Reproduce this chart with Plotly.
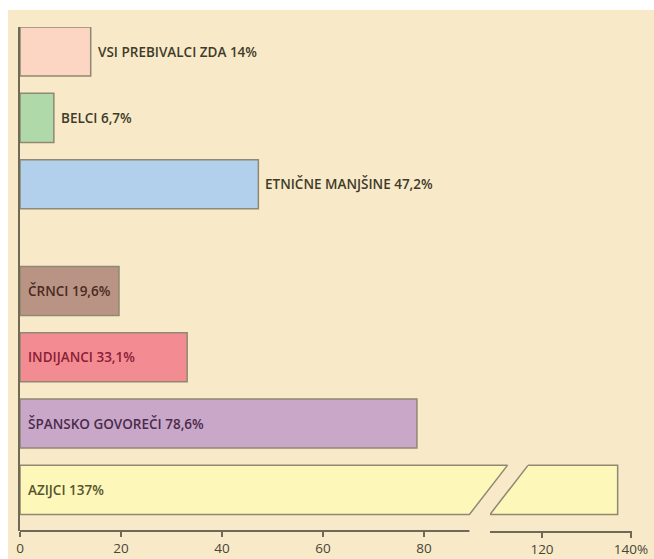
import plotly.graph_objects as go

# ---- data ----
categories = ["VSI PREBIVALCI ZDA", "BELCI", "ETNIČNE MANJŠINE",
              "ČRNCI", "INDIJANCI", "ŠPANSKO GOVOREČI", "AZIJCI"]
values = [14, 6.7, 47.2, 19.6, 33.1, 78.6, 137]
groups = [0, 0, 0, 1, 1, 1, 1]
label_inside = [False, False, False, True, True, True, True]
tick_vals_1 = [0, 20, 40, 60, 80]
tick_text_1 = ["0", "20", "40", "60", "80"]
tick_vals_2 = [120, 140]
tick_text_2 = ["120", "140%"]

# ---- styling / layout ----
fills = ["#fcd6c2", "#afd9a8", "#b2cfeb", "#b99484", "#f38c92", "#c8a7c9", "#fdf7b9"]
text_cols = ["#3f3b2b", "#3f3b2b", "#3f3b2b", "#4a2a22", "#8a2036", "#4b2b4b", "#55552f"]
outline = "#8f8873"
axis_col = "#6f6a58"
cream = "#f8eac8"
font_family = "Open Sans"

W, H = 654, 559
ML, MR, MT, MB = 20, 0, 27, 28
PW = W - ML - MR
PH = H - MT - MB

# broken axis: segment 1 and segment 2 (pixels relative to plot left)
SEG1_PX = 5.05      # px per unit
SEG2_PX = 4.45
BREAK_LO = 89.0     # segment 1 axis line end
SEG1_END_PX = 490   # domain end of segment 1 (room for slant)
SEG2_START_PX = 470 # domain start of segment 2
SEG2_END_PX = 612
SEG2_REF_VAL, SEG2_REF_PX = 120, 522
SLANT_PX = 38       # horizontal slant of the break over the bar height

x1_range = [0, SEG1_END_PX / SEG1_PX]
x2_range = [SEG2_REF_VAL - (SEG2_REF_PX - SEG2_START_PX) / SEG2_PX,
            SEG2_REF_VAL + (SEG2_END_PX - SEG2_REF_PX) / SEG2_PX]

SLOT_GAP = 0.61
positions = [i + SLOT_GAP * g for i, g in enumerate(groups)]
BAR_W = 0.74
h = BAR_W / 2

fig = go.Figure()

normal = [i for i, v in enumerate(values) if v < BREAK_LO]
fig.add_trace(go.Bar(
    orientation="h",
    x=[values[i] for i in normal],
    y=[positions[i] for i in normal],
    width=BAR_W,
    marker=dict(color=[fills[i] for i in normal], line=dict(color=outline, width=1.5)),
    hoverinfo="skip", xaxis="x", yaxis="y",
))

for i, v in enumerate(values):
    if v < BREAK_LO:
        continue
    top, bot = positions[i] - h, positions[i] + h
    fig.add_trace(go.Scatter(
        x=[0, BREAK_LO + SLANT_PX / SEG1_PX, BREAK_LO, 0, 0],
        y=[top, top, bot, bot, top],
        fill="toself", fillcolor=fills[i], mode="lines",
        line=dict(color=outline, width=1.5), hoverinfo="skip",
        xaxis="x", yaxis="y"))
    lo2 = x2_range[0]
    fig.add_trace(go.Scatter(
        x=[lo2 + SLANT_PX / SEG2_PX, v, v, lo2, lo2 + SLANT_PX / SEG2_PX],
        y=[top, top, bot, bot, top],
        fill="toself", fillcolor=fills[i], mode="lines",
        line=dict(color=outline, width=1.5), hoverinfo="skip",
        xaxis="x2", yaxis="y"))

annotations = []
for i, (c, v) in enumerate(zip(categories, values)):
    txt = f"{c} {str(v).replace('.', ',')}%"
    annotations.append(dict(
        x=0 if label_inside[i] else v, y=positions[i], xref="x", yref="y",
        text=txt, showarrow=False, xanchor="left", yanchor="middle",
        xshift=6 if label_inside[i] else 5,
        font=dict(family=font_family, size=13.5, color=text_cols[i], weight=600),
    ))

shapes = [
    dict(type="rect", xref="paper", yref="paper",
         x0=(8 - ML) / PW, x1=1.02, y0=-0.1, y1=1 + (MT - 10) / PH,
         fillcolor=cream, line=dict(width=0), layer="below"),
    dict(type="line", xref="x", yref="paper", x0=0, x1=BREAK_LO, y0=0, y1=0,
         line=dict(color=axis_col, width=2)),
]

tickfont = dict(family=font_family, size=13.5, color="#4a4535")
fig.update_layout(
    width=W, height=H,
    margin=dict(l=ML, r=MR, t=MT, b=MB, autoexpand=False),
    paper_bgcolor="white", plot_bgcolor="rgba(0,0,0,0)",
    showlegend=False,
    xaxis=dict(domain=[0, SEG1_END_PX / PW], range=x1_range, anchor="y",
               automargin=False,
               showline=False, showgrid=False, zeroline=False,
               tickvals=tick_vals_1, ticktext=tick_text_1,
               ticks="outside", ticklen=5, tickwidth=1.5, tickcolor=axis_col,
               tickfont=tickfont),
    xaxis2=dict(domain=[SEG2_START_PX / PW, SEG2_END_PX / PW], range=x2_range, anchor="y",
                automargin=False,
                showline=True, linecolor=axis_col, linewidth=2,
                showgrid=False, zeroline=False,
                tickvals=tick_vals_2, ticktext=tick_text_2,
                ticks="outside", ticklen=5, tickwidth=1.5, tickcolor=axis_col,
                tickfont=tickfont),
    yaxis=dict(domain=[0, 1], range=[positions[-1] + 0.62, -0.37], anchor="x",
               automargin=False,
               showline=True, linecolor=axis_col, linewidth=2,
               showgrid=False, zeroline=False, showticklabels=False, ticks=""),
    annotations=annotations,
    shapes=shapes,
)

fig.write_html("out.html", config={"displayModeBar": False},
               post_script="document.body.style.margin='0';document.body.style.overflow='hidden';")
